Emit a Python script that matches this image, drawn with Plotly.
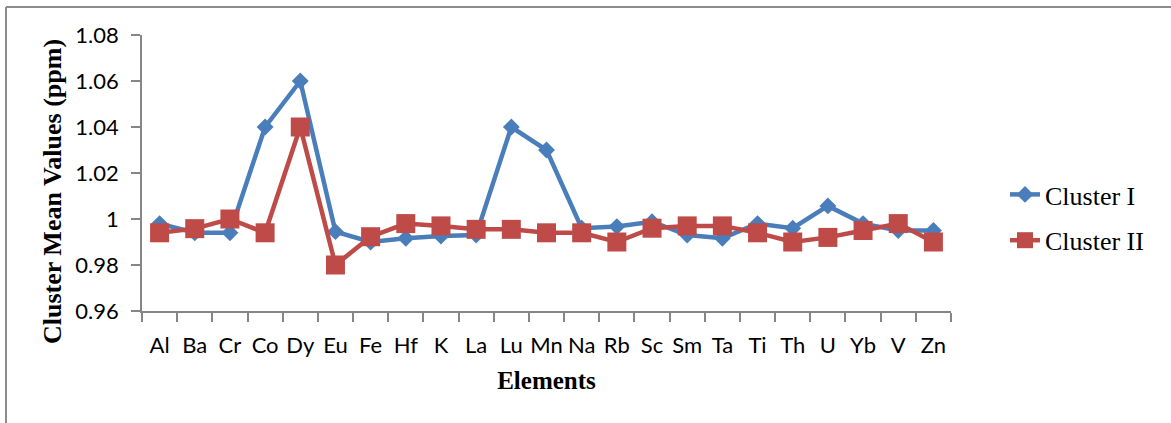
import plotly.graph_objects as go

# Elements on the x axis
elements = ["Al", "Ba", "Cr", "Co", "Dy", "Eu", "Fe", "Hf", "K", "La", "Lu", "Mn",
            "Na", "Rb", "Sc", "Sm", "Ta", "Ti", "Th", "U", "Yb", "V", "Zn"]

# Cluster mean values (ppm)
cluster_1 = [0.998, 0.994, 0.994, 1.040, 1.060, 0.9945, 0.990, 0.9916, 0.9926, 0.993,
             1.040, 1.030, 0.996, 0.9967, 0.9988, 0.993, 0.9916, 0.998, 0.996, 1.0057,
             0.998, 0.995, 0.995]
cluster_2 = [0.994, 0.9958, 1.000, 0.994, 1.040, 0.980, 0.9923, 0.998, 0.997, 0.9955,
             0.9955, 0.994, 0.994, 0.990, 0.996, 0.997, 0.997, 0.994, 0.990, 0.992,
             0.995, 0.998, 0.990]

# Y axis ticks
y_ticks = [0.96, 0.98, 1.00, 1.02, 1.04, 1.06, 1.08]
y_tick_text = ["0.96", "0.98", "1", "1.02", "1.04", "1.06", "1.08"]

BLUE = "#4A7EBB"
RED = "#BE4B48"
AXIS = "#868686"

W, H = 1171, 423
L, R, T, B = 142, 220, 35, 112
PW, PH = W - L - R, H - T - B


def px_x(px):
    return (px - L) / PW


def px_y(py):
    return (H - B - py) / PH


fig = go.Figure()
fig.add_trace(go.Scatter(
    x=elements, y=cluster_1, name="Cluster I", mode="lines+markers",
    line=dict(color=BLUE, width=4.5),
    marker=dict(symbol="diamond", size=13, color=BLUE),
    legendgroup="c1",
))
fig.add_trace(go.Scatter(
    x=elements, y=cluster_2, name="Cluster II", mode="lines+markers",
    line=dict(color=RED, width=4.5),
    marker=dict(symbol="square", size=19, color=RED),
    legendgroup="c2",
))

fig.update_layout(
    width=W, height=H,
    margin=dict(l=L, r=R, t=T, b=B),
    paper_bgcolor="white", plot_bgcolor="white",
    showlegend=True,
    legend=dict(
        x=px_x(1005), y=px_y(171), xanchor="left", yanchor="top",
        font=dict(family="Liberation Serif", size=26, color="black"),
        tracegroupgap=9, bgcolor="rgba(0,0,0,0)",
    ),
    xaxis=dict(
        type="category", range=[-0.5, len(elements) - 0.5],
        showline=True, linecolor=AXIS, linewidth=1.5,
        ticks="outside", tickson="boundaries", ticklen=9, tickcolor=AXIS, tickwidth=1.5,
        showgrid=False, zeroline=False, tickangle=0,
        tickfont=dict(family="Lato", size=22, color="black"),
        ticklabelstandoff=14,
        title=dict(text="<b>Elements</b>", standoff=14,
                   font=dict(family="Liberation Serif", size=25, color="black")),
    ),
    yaxis=dict(
        range=[0.96, 1.08], tickvals=y_ticks, ticktext=y_tick_text,
        showline=True, linecolor=AXIS, linewidth=1.5,
        ticks="outside", ticklen=9, tickcolor=AXIS, tickwidth=1.5,
        showgrid=False, zeroline=False,
        tickfont=dict(family="Lato", size=22, color="black"),
        ticklabelstandoff=8,
    ),
    annotations=[
        dict(text="<b>Cluster Mean Values (ppm)</b>", textangle=-90,
             xref="paper", yref="paper", x=px_x(52), y=px_y(192),
             xanchor="center", yanchor="middle", showarrow=False,
             font=dict(family="Liberation Serif", size=26, color="black")),
    ],
    shapes=[
        dict(type="line", xref="paper", yref="paper",
             x0=px_x(6), x1=px_x(6), y0=px_y(7), y1=px_y(H + 5),
             line=dict(color="#8C8C8C", width=2)),
        dict(type="line", xref="paper", yref="paper",
             x0=px_x(6), x1=px_x(W + 5), y0=px_y(7), y1=px_y(7),
             line=dict(color="#8C8C8C", width=2)),
    ],
)

fig.write_html("out.html")
